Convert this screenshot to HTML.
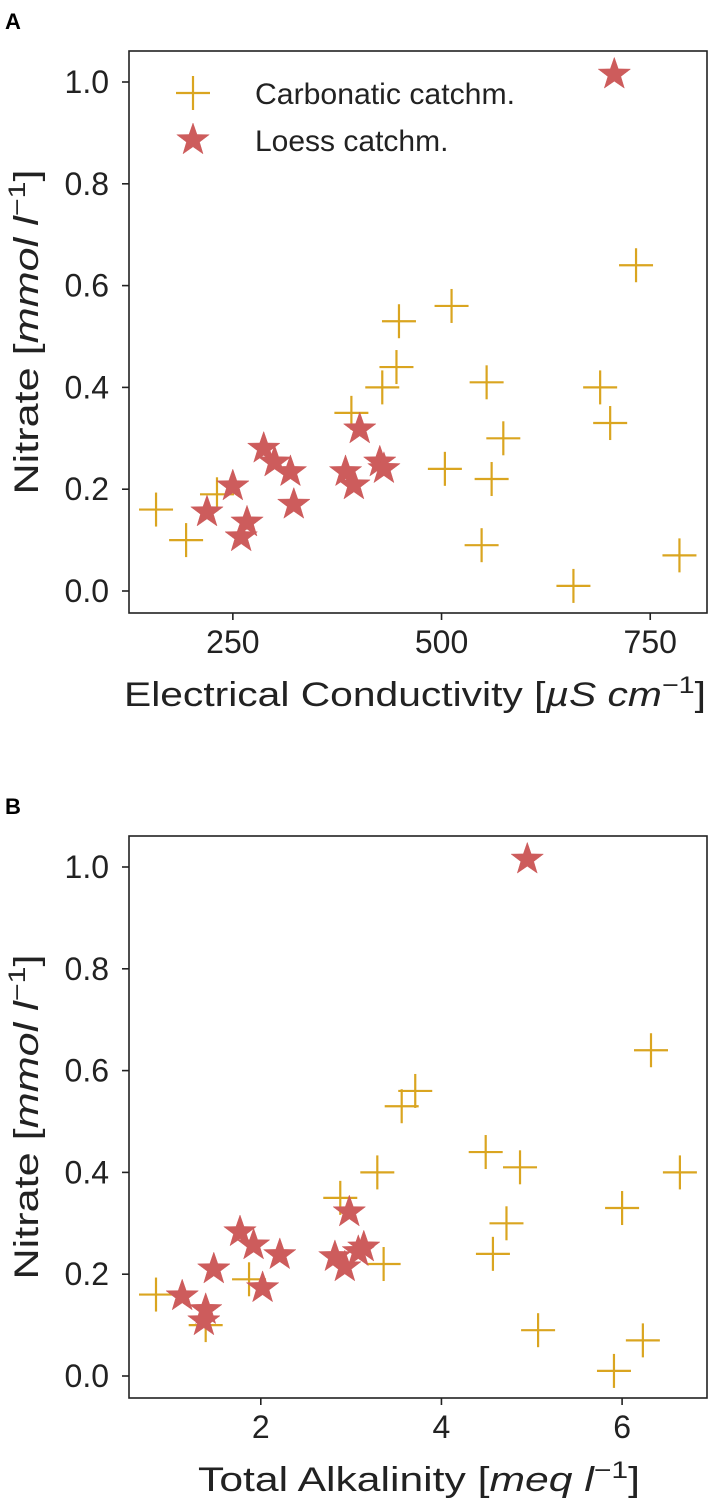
<!DOCTYPE html>
<html><head><meta charset="utf-8">
<style>
html,body{margin:0;padding:0;background:#fff;}
svg{display:block;font-family:"Liberation Sans",Arial,sans-serif;}
</style></head>
<body>
<svg id="fig" width="709" height="1509" viewBox="0 0 709 1509" xmlns="http://www.w3.org/2000/svg"></svg>
<script>
// Panel A data: Electrical conductivity vs nitrate
const carbEC = [158,194,231,392,429,446,449,512,554,504,574,560,548,658,690,702,733,785];
const carbNitA = [0.16,0.10,0.19,0.35,0.40,0.44,0.53,0.56,0.41,0.24,0.30,0.22,0.09,0.01,0.40,0.33,0.64,0.07];
const loessEC = [219,250,267,260,287,300,319,323,385,395,402,426,431,707];
const loessNitA = [0.155,0.206,0.135,0.106,0.28,0.253,0.234,0.17,0.234,0.208,0.318,0.253,0.24,1.015];
// Panel B data: Total alkalinity vs nitrate
const carbTA = [0.84,1.39,1.87,2.88,3.29,3.36,3.56,3.71,4.49,4.87,4.57,4.72,5.07,5.91,6.0,6.32,6.23,6.64];
const carbNitB = [0.16,0.10,0.19,0.35,0.40,0.22,0.53,0.56,0.44,0.41,0.24,0.30,0.09,0.01,0.33,0.64,0.07,0.40];
const loessTA = [1.13,1.48,1.39,1.37,1.77,1.92,2.21,2.02,2.82,2.93,2.98,3.14,3.08,4.95];
const loessNitB = [0.157,0.21,0.13,0.108,0.283,0.257,0.238,0.173,0.234,0.214,0.322,0.253,0.244,1.015];
const yTicks = [0.0,0.2,0.4,0.6,0.8,1.0];
const yTickLabels = ["0.0","0.2","0.4","0.6","0.8","1.0"];
const xTicksA = [250,500,750];
const xTickLabelsA = ["250","500","750"];
const xTicksB = [2,4,6];
const xTickLabelsB = ["2","4","6"];

const NS="http://www.w3.org/2000/svg";
const svg=document.getElementById('fig');
function mk(tag,attrs,parent){const e=document.createElementNS(NS,tag);for(const k in attrs)e.setAttribute(k,attrs[k]);(parent||svg).appendChild(e);return e;}
const GOLD="#DAA520", RED="#CD5C5C";
function starPts(cx,cy,R){const r=R*0.40;let p=[];for(let i=0;i<10;i++){const a=-Math.PI/2+i*Math.PI/5;const rr=i%2?r:R;p.push((cx+rr*Math.cos(a)).toFixed(1)+","+(cy+rr*Math.sin(a)).toFixed(1));}return p.join(" ");}
function cross(g,cx,cy,name){
  const c=mk('g',{},g);
  
  
  mk('line',{x1:cx-17,y1:cy,x2:cx+17,y2:cy,stroke:GOLD,'stroke-width':2.2},c);
  mk('line',{x1:cx,y1:cy-17,x2:cx,y2:cy+17,stroke:GOLD,'stroke-width':2.2},c);
}
function star(g,cx,cy,name){
  const s=mk('polygon',{points:starPts(cx,cy,17),fill:RED,stroke:RED,'stroke-width':0.5},g);
  
  
}

function panel(opt){
  const L=129,R=707,T=opt.top,B=opt.top+562;
  const y0=opt.top+540, yscale=509;
  const X=v=>L+(v-opt.xmin)/(opt.xmax-opt.xmin)*(R-L);
  const Y=v=>y0-v*yscale;
  const g=mk('g',{});
  
  
  const lt=mk('text',{x:5,y:opt.top-22,'font-size':22,'font-weight':'bold',fill:'#000'},g);
  lt.textContent=opt.letter;
  
  
  for(let i=0;i<opt.cx.length;i++) cross(g,X(opt.cx[i]),Y(opt.cy[i]),'carbonatic-point');
  for(let i=0;i<opt.lx.length;i++) star(g,X(opt.lx[i]),Y(opt.ly[i]),'loess-point');
  const fr=mk('rect',{x:L,y:T,width:R-L,height:B-T,fill:'none',stroke:'#222','stroke-width':1.6},g);
  
  
  for(let i=0;i<yTicks.length;i++){
    const y=Y(yTicks[i]);
    mk('line',{x1:L-7,y1:y,x2:L,y2:y,stroke:'#222','stroke-width':1.6},g);
    const t=mk('text',{x:L-20,y:y+11,'font-size':32,'text-anchor':'end',fill:'#222'},g);
    t.textContent=yTickLabels[i];
    
    
  }
  for(let i=0;i<opt.xt.length;i++){
    const x=X(opt.xt[i]);
    mk('line',{x1:x,y1:B,x2:x,y2:B+7,stroke:'#222','stroke-width':1.6},g);
    const t=mk('text',{x:x,y:B+40,'font-size':32,'text-anchor':'middle',fill:'#222'},g);
    t.textContent=opt.xtl[i];
    
    
  }
  const yt=mk('text',{x:0,y:0,'font-size':34,'text-anchor':'middle',fill:'#222',textLength:325,lengthAdjust:'spacingAndGlyphs',transform:`translate(38,${(T+B)/2}) rotate(-90)`},g);
  yt.innerHTML='Nitrate [<tspan font-style="italic">mmol l</tspan><tspan font-size="24" dy="-13">−1</tspan><tspan dy="13">]</tspan>';
  
  
  const xt=mk('text',{x:opt.xtx,y:B+93,'font-size':34,fill:'#222',textLength:opt.xtw,lengthAdjust:'spacingAndGlyphs'},g);
  xt.innerHTML=opt.xlabel;
  
  
  return g;
}

const gA=panel({name:'panel-a',letter:'A',top:51,xmin:125.6,xmax:818,cx:carbEC,cy:carbNitA,lx:loessEC,ly:loessNitA,xt:xTicksA,xtl:xTickLabelsA,xtx:124,xtw:582,
  xlabel:'Electrical Conductivity [<tspan font-style="italic">µS cm</tspan><tspan font-size="24" dy="-13">−1</tspan><tspan dy="13">]</tspan>'});
panel({name:'panel-b',letter:'B',top:836,xmin:0.541,xmax:6.94,cx:carbTA,cy:carbNitB,lx:loessTA,ly:loessNitB,xt:xTicksB,xtl:xTickLabelsB,xtx:198,xtw:442,
  xlabel:'Total Alkalinity [<tspan font-style="italic">meq l</tspan><tspan font-size="24" dy="-13">−1</tspan><tspan dy="13">]</tspan>'});

const lg=mk('g',{},gA);


cross(lg,193,93,'legend-carbonatic-marker');
const t1=mk('text',{x:255,y:104,'font-size':30,fill:'#222',textLength:260,lengthAdjust:'spacingAndGlyphs'},lg);
t1.textContent='Carbonatic catchm.';


star(lg,193,140,'legend-loess-marker');
const t2=mk('text',{x:255,y:151,'font-size':30,fill:'#222'},lg);
t2.textContent='Loess catchm.';


</script>
</body></html>
